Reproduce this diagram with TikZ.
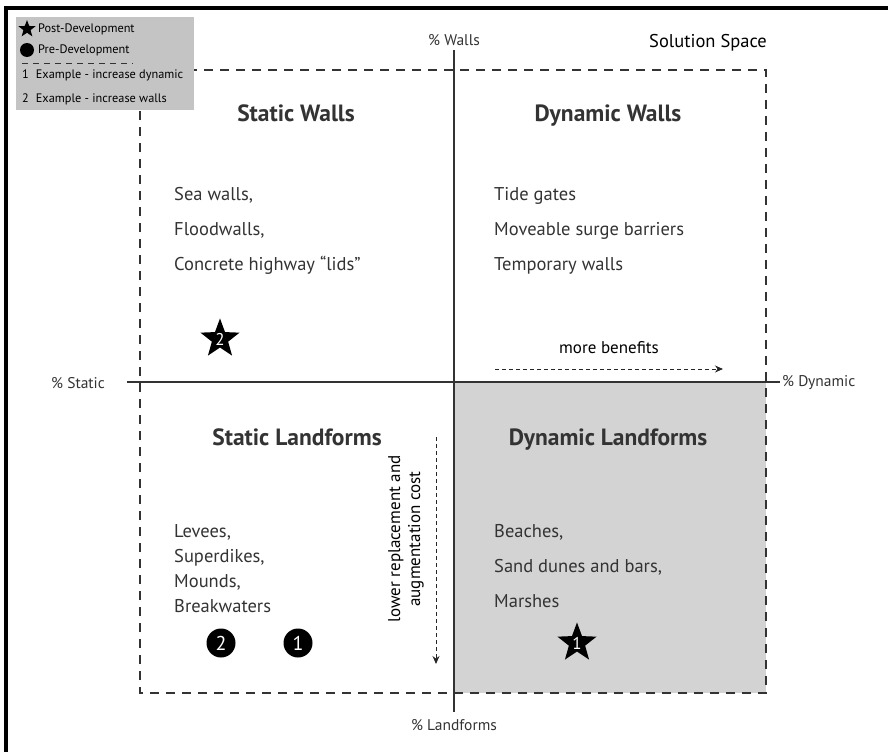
\documentclass[tikz,border=0pt]{standalone}
\usepackage{fontspec}
\setmainfont{PT Sans}
\usetikzlibrary{shapes.geometric,arrows.meta}
\definecolor{txt}{HTML}{333333}
\definecolor{quadgray}{HTML}{D3D3D3}
\definecolor{leggray}{HTML}{C4C4C4}
\begin{document}
\begin{tikzpicture}[x=1pt,y=-1pt,
  title/.style={font=\fontsize{23.5}{28}\selectfont\bfseries, text=txt, inner sep=0pt, anchor=base},
  item/.style={font=\fontsize{18.5}{22}\selectfont, text=txt, anchor=base west, inner sep=0pt},
  axlabel/.style={font=\fontsize{15.5}{18}\selectfont, text=txt, inner sep=0pt},
  legtext/.style={font=\fontsize{12.3}{14}\selectfont, text=black, anchor=west, inner sep=0pt},
  starmark/.style={star, star points=5, star point ratio=2.4, fill=black, inner sep=0pt, minimum size=35pt, font=\fontsize{17}{19}\selectfont, text=white},
  dotmark/.style={circle, fill=black, inner sep=0pt, minimum size=29pt, font=\fontsize{20}{22}\selectfont, text=white},
  dashbox/.style={draw=black!80, line width=1.2pt, dash pattern=on 9pt off 7pt},
  axis/.style={draw=black!80, line width=1.3pt},
  hint/.style={draw=black!85, line width=1pt, dash pattern=on 4pt off 3pt, -{Stealth[length=8pt,width=7pt]}}
]
\useasboundingbox (0,0) rectangle (888,752);
% outer frame
\draw[line width=3.5pt, black] (6,752) -- (6,8) -- (888,8);
% gray quadrant
\fill[quadgray] (454,382) rectangle (766,693);
% dashed solution box
\coordinate (tl) at (140,70);
\coordinate (tr) at (766,70);
\coordinate (br) at (766,693);
\coordinate (bl) at (140,693);
\draw[dashbox] (tl) -- (tr) -- (br) -- (bl) -- cycle;
% legend
\fill[leggray] (16,17) rectangle (194,110);
\node[star, star points=5, star point ratio=2.4, fill=black, inner sep=0pt, minimum size=18pt] (lstar) at (27,29) {};
\node[circle, fill=black, inner sep=0pt, minimum size=14pt] (ldot) at (27,50) {};
\node[legtext] (lpost) at (38,29) {Post-Development};
\node[legtext] (lpre) at (38,50) {Pre-Development};
\coordinate (ldl) at (22,63);
\coordinate (ldr) at (133,63);
\draw[black!80, line width=0.8pt, dash pattern=on 6pt off 5pt] (ldl) -- (ldr);
\node[legtext] (l1) at (22,75) {1\hspace{7pt}Example - increase dynamic};
\node[legtext] (l2) at (22,99) {2\hspace{7pt}Example - increase walls};
% axes
\node[axlabel] (walls) at (454,40) {\% Walls};
\node[axlabel] (land) at (454,725) {\% Landforms};
\node[axlabel] (static) at (78,383) {\% Static};
\node[axlabel, anchor=west] (dyn) at (782,383) {\% Dynamic};
\coordinate (vtop) at (454,50);
\coordinate (vbot) at (454,712);
\coordinate (hl) at (127,382);
\coordinate (hr) at (780,382);
\draw[axis] (vtop) -- (vbot);
\draw[axis] (hl) -- (hr);
\node[font=\fontsize{18.5}{22}\selectfont, text=black, inner sep=0pt] (sol) at (708,43) {Solution Space};
% titles
\node[title] (sw) at (296,121) {Static Walls};
\node[title] (dw) at (608,121) {Dynamic Walls};
\node[title] (sl) at (297,445) {Static Landforms};
\node[title] (dl) at (608,445) {Dynamic Landforms};
% lists
\node[item] (a1) at (174,200.5) {Sea walls,};
\node[item] (a2) at (174,235.5) {Floodwalls,};
\node[item] (a3) at (174,270.5) {Concrete highway “lids”};
\node[item] (b1) at (494,200.5) {Tide gates};
\node[item] (b2) at (494,235.5) {Moveable surge barriers};
\node[item] (b3) at (494,270.5) {Temporary walls};
\node[item] (c1) at (174,537.5) {Levees,};
\node[item] (c2) at (174,562.5) {Superdikes,};
\node[item] (c3) at (174,587.5) {Mounds,};
\node[item] (c4) at (174,612.5) {Breakwaters};
\node[item] (d1) at (494,537.5) {Beaches,};
\node[item] (d2) at (494,572.5) {Sand dunes and bars,};
\node[item] (d3) at (494,607.5) {Marshes};
% arrows
\node[font=\fontsize{17}{20}\selectfont, text=black, inner sep=0pt] (mb) at (609,348) {more benefits};
\coordinate (mbs) at (495,369);
\coordinate (mbe) at (723,369);
\draw[hint] (mbs) -- (mbe);
\coordinate (lcs) at (436,437);
\coordinate (lce) at (436,664);
\draw[hint] (lcs) -- (lce);
\node[rotate=90, align=center, font=\fontsize{17}{20}\selectfont, text=black, inner sep=0pt] (lc) at (406,539) {lower replacement and\\augmentation cost};
% markers
\node[starmark] (s2) at (220,339) {2};
\node[starmark] (s1) at (577,643) {1};
\node[dotmark] (p2) at (221,643) {2};
\node[dotmark] (p1) at (298,643) {1};
\end{tikzpicture}
\end{document}
